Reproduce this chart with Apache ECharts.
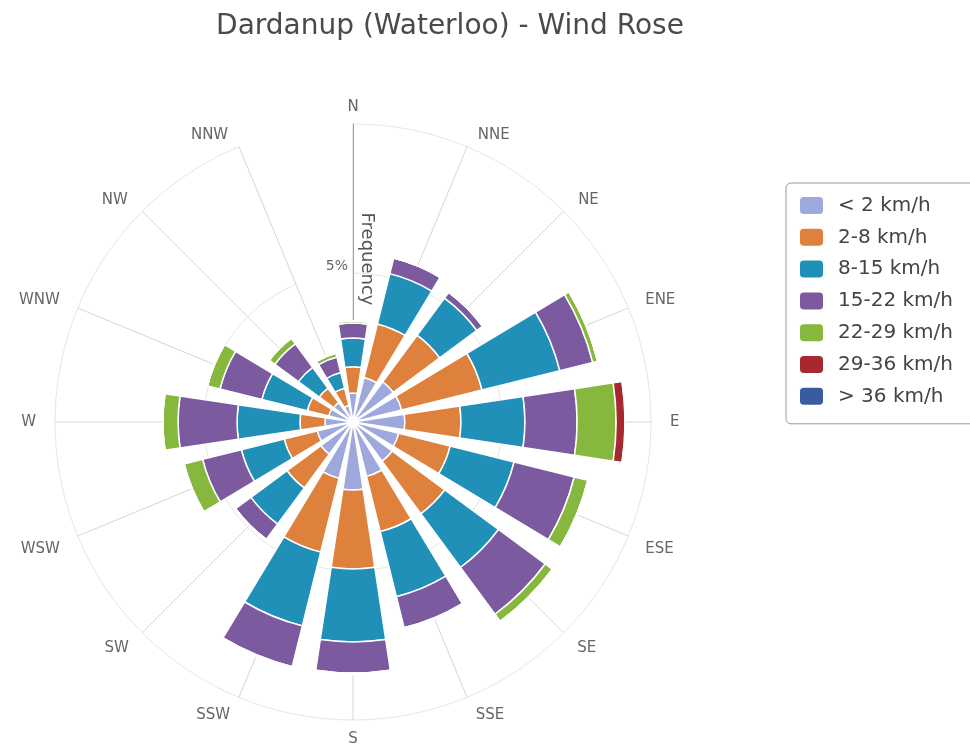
<!DOCTYPE html>
<html>
<head>
<meta charset="utf-8">
<script src="https://cdn.jsdelivr.net/npm/echarts@6/dist/echarts.min.js"></script>
<style>
html,body{margin:0;padding:0;background:#fff;}
#chart{width:970px;height:749px;}
</style>
</head>
<body>
<div id="chart"></div>
<script>
// Directions (categories)
const directions = ['N','NNE','NE','ENE','E','ESE','SE','SSE','S','SSW','SW','WSW','W','WNW','NW','NNW'];
// Speed bins (series names)
const speedBins = ['< 2 km/h','2-8 km/h','8-15 km/h','15-22 km/h','22-29 km/h','29-36 km/h','> 36 km/h'];
// Frequency (%) per direction for each speed bin
const lt2     = [0.97, 1.54, 1.68, 1.68, 1.74, 1.58, 1.64, 1.88, 2.28, 1.95, 1.34, 1.24, 0.94, 0.84, 0.81, 0.57];
const s2to8   = [0.88, 1.85, 1.94, 2.78, 1.88, 1.78, 2.19, 1.91, 2.65, 2.55, 1.41, 1.14, 0.84, 0.74, 0.60, 0.60];
const s8to15  = [0.97, 1.74, 1.55, 2.69, 2.15, 2.21, 2.24, 2.25, 2.45, 2.55, 1.51, 1.48, 2.11, 1.57, 0.87, 0.54];
const s15to22 = [0.50, 0.54, 0.24, 1.14, 1.75, 2.08, 1.95, 1.07, 1.04, 1.41, 0.64, 1.34, 1.98, 1.45, 0.98, 0.54];
const s22to29 = [0.07, 0.00, 0.00, 0.17, 1.31, 0.47, 0.30, 0.04, 0.05, 0.05, 0.00, 0.64, 0.51, 0.43, 0.23, 0.13];
const s29to36 = [0.00, 0.00, 0.00, 0.00, 0.30, 0.00, 0.00, 0.00, 0.00, 0.00, 0.00, 0.00, 0.00, 0.00, 0.00, 0.00];
const gt36    = [0.00, 0.00, 0.00, 0.00, 0.00, 0.00, 0.00, 0.00, 0.00, 0.00, 0.00, 0.00, 0.00, 0.00, 0.00, 0.00];
const seriesData = [lt2, s2to8, s8to15, s15to22, s22to29, s29to36, gt36];
const colors = ['#9ea8dc', '#de813d', '#2190b8', '#7c5a9f', '#86b83e', '#a8282f', '#3b5ba0'];
// Radius axis
const radiusMax = 10;
const radiusInterval = 5;
const radiusLabelValues = [5];

const FONT = 'DejaVu Sans';

// label paddings [top, right, bottom, left] so that direction labels sit like the reference
const labelPads = [
  [0, 0, 7, 0],    // N
  [0, 0, 2, 10],   // NNE
  [0, 0, 2, 13],   // NE
  [0, 0, 0, 15],   // ENE
  [0, 0, 0, 17],   // E
  [5, 0, 0, 15],   // ESE
  [6, 0, 0, 12],   // SE
  [8, 0, 0, 8],    // SSE
  [10, 0, 0, 0],   // S
  [8, 8, 0, 0],    // SSW
  [6, 12, 0, 0],   // SW
  [5, 16, 0, 0],   // WSW
  [0, 17, 0, 0],   // W
  [0, 16, 0, 0],   // WNW
  [0, 13, 2, 0],   // NW
  [0, 10, 2, 0]    // NNW
];
const rich = {};
labelPads.forEach(function (p, i) {
  rich['d' + i] = { fontFamily: FONT, fontSize: 15, color: '#666', padding: p };
});

const chart = echarts.init(document.getElementById('chart'));
const option = {
  backgroundColor: '#ffffff',
  color: colors,
  title: {
    text: 'Dardanup (Waterloo) - Wind Rose',
    left: 450,
    top: 13,
    padding: 0,
    textAlign: 'center',
    textStyle: { fontFamily: FONT, fontSize: 28, fontWeight: 'normal', color: '#4a4a4a' }
  },
  legend: {
    orient: 'vertical',
    left: 786,
    top: 183,
    padding: [12, 40, 17, 12],
    itemWidth: 25,
    itemHeight: 19,
    itemGap: 10.8,
    icon: 'roundRect',
    borderColor: '#9a9a9a',
    borderWidth: 1,
    borderRadius: 5,
    data: speedBins,
    textStyle: { fontFamily: FONT, fontSize: 20, color: '#444', padding: [0, 0, 0, 9] }
  },
  polar: {
    center: [353, 422],
    radius: 298
  },
  angleAxis: {
    type: 'category',
    data: directions,
    boundaryGap: false,
    startAngle: 90,
    clockwise: true,
    axisLine: { show: false },
    axisTick: { show: false },
    axisLabel: {
      margin: 2,
      interval: 0,
      formatter: function (v) { return '{d' + directions.indexOf(v) + '|' + v + '}'; },
      rich: rich
    },
    splitLine: { show: true, lineStyle: { color: '#d6d6d6', width: 1 } }
  },
  radiusAxis: {
    type: 'value',
    min: 0,
    max: radiusMax,
    interval: radiusInterval,
    axisLine: { show: true, lineStyle: { color: '#a0a0a0', width: 1 } },
    axisTick: { show: false },
    axisLabel: {
      fontFamily: FONT, fontSize: 14, color: '#666', margin: 5, verticalAlign: 'bottom',
      formatter: function (v) { return radiusLabelValues.indexOf(v) >= 0 ? v + '%' : ''; }
    },
    splitLine: { show: true, lineStyle: { color: '#e6e6e6', width: 1 } },
    name: 'Frequency',
    nameLocation: 'middle',
    nameGap: 5,
    nameRotate: -90,
    nameTextStyle: { fontFamily: FONT, fontSize: 18, color: '#555', padding: [0, 28, 0, 0] }
  },
  series: speedBins.map(function (name, i) {
    return {
      name: name,
      type: 'bar',
      coordinateSystem: 'polar',
      stack: 'wind',
      data: seriesData[i],
      barCategoryGap: '24%',
      itemStyle: { color: colors[i], borderColor: '#ffffff', borderWidth: 1.5 },
      emphasis: { disabled: true },
      animation: false
    };
  }),
  animation: false
};
chart.setOption(option);
</script>
</body>
</html>
